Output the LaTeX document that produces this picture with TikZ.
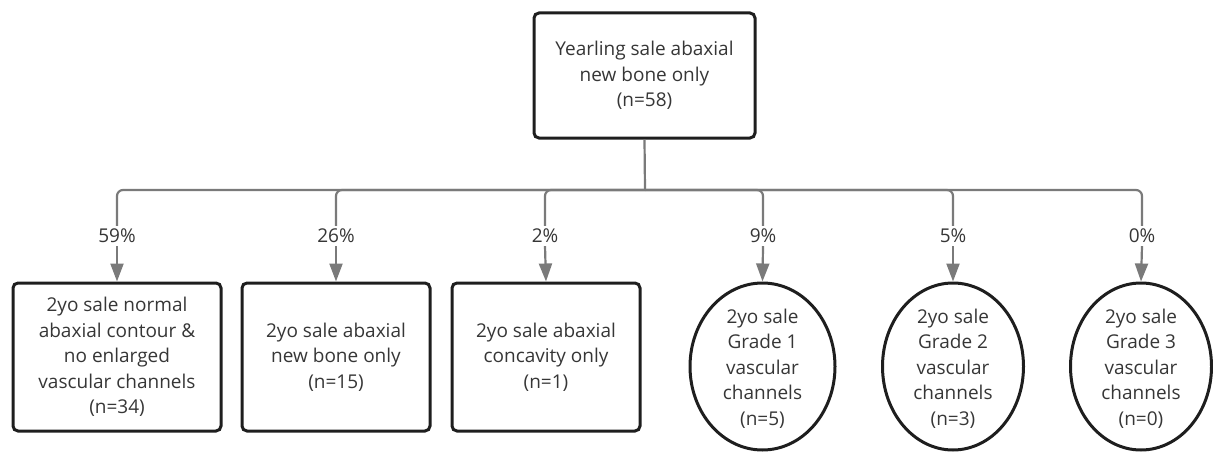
\documentclass[tikz,border=0pt]{standalone}
\usepackage{fontspec}
\setmainfont{Open Sans}
\usetikzlibrary{arrows.meta,shapes.geometric}
\definecolor{txt}{HTML}{363636}
\definecolor{conn}{HTML}{7A7A7A}
\definecolor{edgec}{HTML}{1E1E1E}
\begin{document}
\begin{tikzpicture}[x=1pt,y=-1pt,
  every node/.style={font=\fontsize{19}{25.5}\selectfont, text=txt, align=center},
  box/.style={draw=edgec, line width=3pt, rounded corners=5pt, inner sep=0pt, minimum height=148pt},
  oval/.style={draw=edgec, line width=3pt, ellipse, inner sep=0pt, minimum width=145pt, minimum height=167pt},
  pct/.style={fill=white, inner sep=3pt},
  link/.style={draw=conn, line width=2.2pt},
  arr/.style={link, -{Triangle[width=13pt,length=18pt]}}
]
\useasboundingbox (0,0) rectangle (1213,452);
\node[box, minimum width=221pt, minimum height=125pt] (top) at (644.5,75.5) {Yearling sale abaxial\\new bone only\\(n=58)};
\node[box, minimum width=208pt] (b1) at (117,357) {2yo sale normal\\abaxial contour \&\\no enlarged\\vascular channels\\(n=34)};
\node[box, minimum width=188pt] (b2) at (336,357) {2yo sale abaxial\\new bone only\\(n=15)};
\node[box, minimum width=188pt] (b3) at (546,357) {2yo sale abaxial\\concavity only\\(n=1)};
\node[oval] (b4) at (762.5,366.5) {};
\node[oval, minimum width=141pt] (b5) at (953,366.5) {};
\node[oval, minimum width=141pt] (b6) at (1141,366.5) {};
\node (t4) at (762.5,368.5) {2yo sale\\Grade 1\\vascular\\channels\\(n=5)};
\node (t5) at (953,368.5) {2yo sale\\Grade 2\\vascular\\channels\\(n=3)};
\node (t6) at (1141,368.5) {2yo sale\\Grade 3\\vascular\\channels\\(n=0)};
\node[pct] (p1) at (117,236) {59\%};
\node[pct] (p2) at (336,236) {26\%};
\node[pct] (p3) at (545,236) {2\%};
\node[pct] (p4) at (763,236) {9\%};
\node[pct] (p5) at (953,236) {5\%};
\node[pct] (p6) at (1142,236) {0\%};
\coordinate (j) at (645,190);
\draw[link] (top.south) -- (j);
\foreach \i in {1,...,6} {
  \draw[link, rounded corners=6pt] (j) -| (p\i.north);
  \draw[arr] (p\i.south) -- (b\i.north);
}
\end{tikzpicture}
\end{document}
